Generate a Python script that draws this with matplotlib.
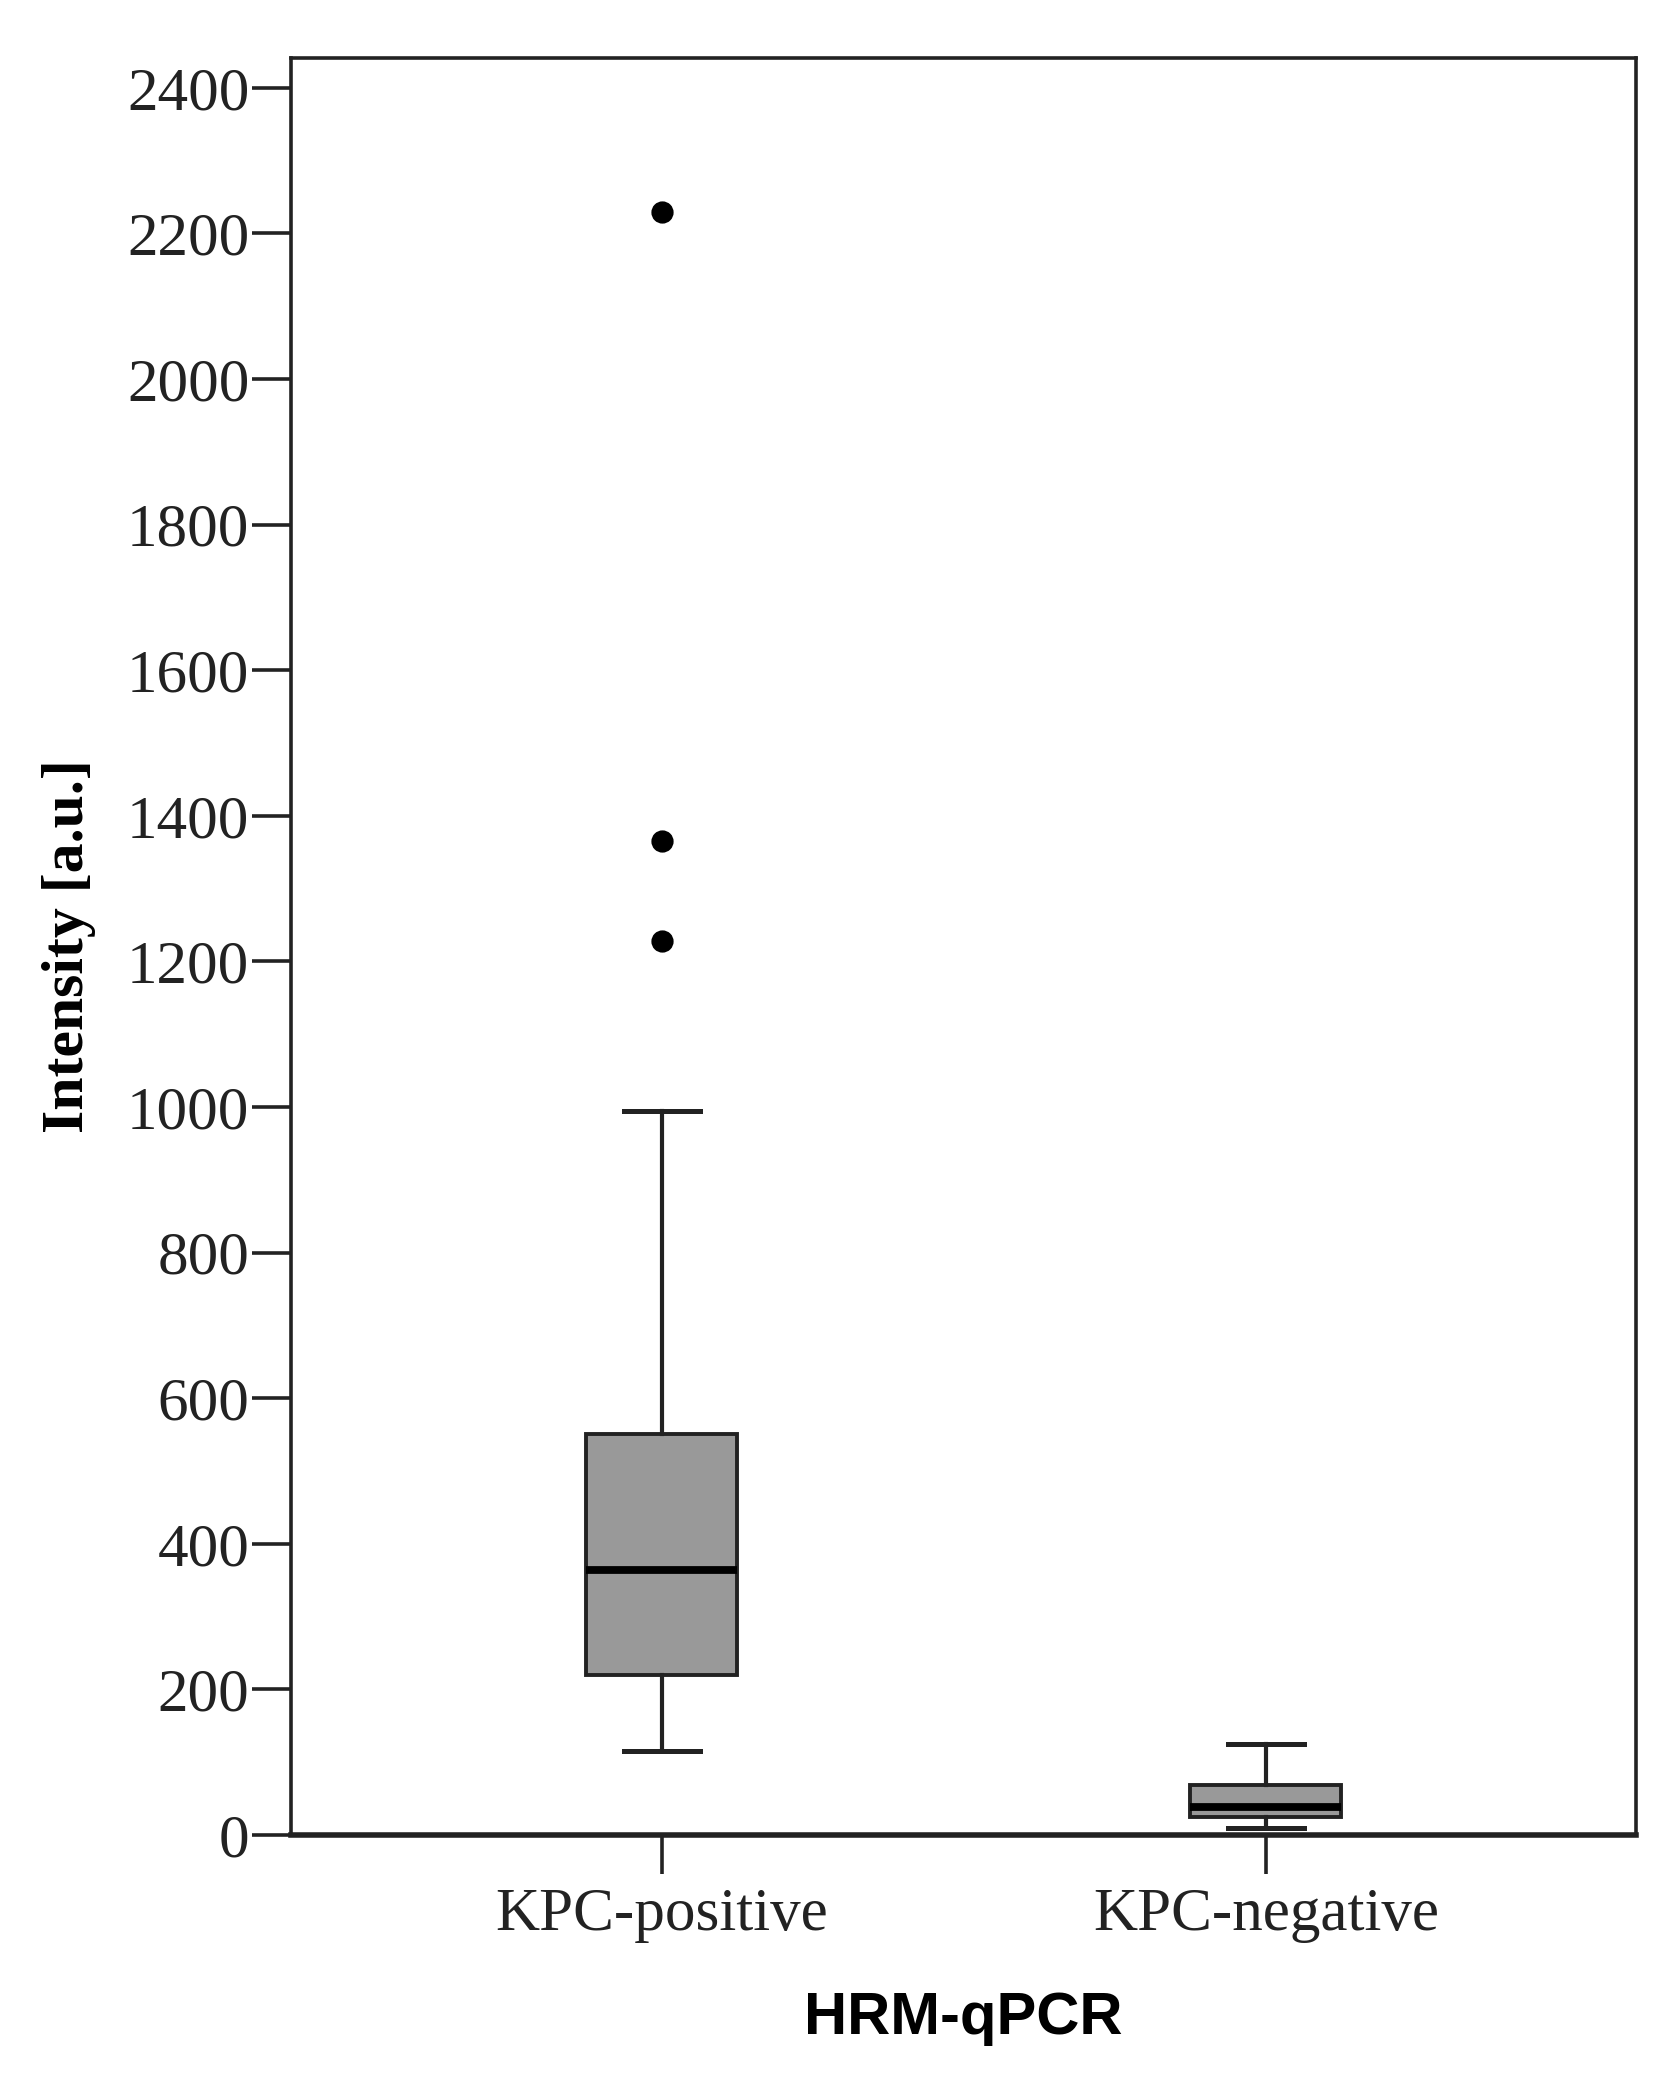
"""Box plot of intensity by HRM-qPCR group (KPC-positive vs KPC-negative)."""

import matplotlib

matplotlib.use("Agg")
import matplotlib.pyplot as plt

# values
groups = ["KPC-positive", "KPC-negative"]
whisker_low = [116, 10]
q1 = [220, 25]
median = [364, 38]
q3 = [551, 69]
whisker_high = [994, 125]
outliers = [[1228, 1366, 2229], []]

y_ticks = [0, 200, 400, 600, 800, 1000, 1200, 1400, 1600, 1800, 2000, 2200, 2400]

SERIF = "Liberation Serif"
SANS = "Liberation Sans"
LINE = "#222222"


def main() -> None:
    stats = []
    for i, name in enumerate(groups):
        stats.append({
            "label": name,
            "whislo": whisker_low[i],
            "q1": q1[i],
            "med": median[i],
            "q3": q3[i],
            "whishi": whisker_high[i],
            "fliers": outliers[i],
        })

    fig = plt.figure(figsize=(8.4, 10.365), dpi=200)
    ax = fig.add_axes([0.1732, 0.1148, 0.8006, 0.8572])

    ax.bxp(
        stats,
        positions=[1, 2],
        widths=0.25,
        patch_artist=True,
        showfliers=True,
        boxprops=dict(facecolor="#999999", edgecolor=LINE, linewidth=1.4),
        medianprops=dict(color="black", linewidth=2.8),
        whiskerprops=dict(color=LINE, linewidth=1.5),
        capprops=dict(color=LINE, linewidth=1.8),
        flierprops=dict(marker="o", markersize=7, markerfacecolor="black",
                        markeredgecolor="black"),
    )

    ax.set_xlim(0.386, 2.613)
    ax.set_ylim(0, 2441)
    ax.set_yticks(y_ticks)
    ax.set_xticks([1, 2])
    ax.set_xticklabels(groups)

    for lbl in ax.get_xticklabels() + ax.get_yticklabels():
        lbl.set_fontfamily(SERIF)
        lbl.set_fontsize(22)
        lbl.set_color("#222222")

    ax.tick_params(axis="y", direction="out", length=14, width=1.3,
                   color=LINE, pad=1)
    ax.tick_params(axis="x", direction="out", length=14, width=1.3,
                   color=LINE, pad=5)

    for side, spine in ax.spines.items():
        spine.set_color(LINE)
        spine.set_linewidth(2.0 if side == "bottom" else 1.3)

    ax.set_ylabel("Intensity [a.u.]", fontfamily=SERIF, fontweight="bold",
                  fontsize=21.5, labelpad=11)
    ax.set_xlabel("HRM-qPCR", fontfamily=SANS, fontweight="bold",
                  fontsize=21.5, labelpad=17)

    fig.savefig("out.png", dpi=200, facecolor="white")
    plt.close(fig)


if __name__ == "__main__":
    main()
